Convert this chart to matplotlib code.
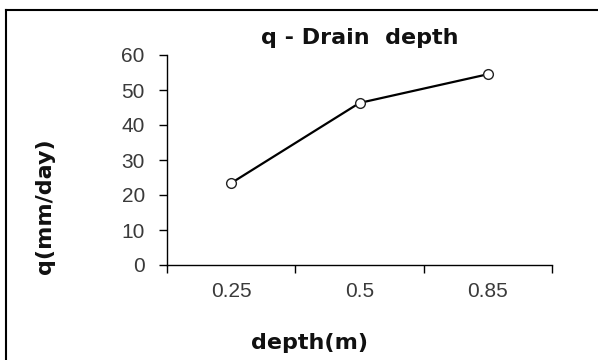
import matplotlib
matplotlib.use("Agg")
import matplotlib.pyplot as plt
from matplotlib.lines import Line2D

plt.rcParams['font.family'] = ['Liberation Sans', 'DejaVu Sans']

# donnees
depth = ["0.25", "0.5", "0.85"]
q = [23.4, 46.3, 54.5]
yticks = [0, 10, 20, 30, 40, 50, 60]

W, H = 598, 360
fig = plt.figure(figsize=(W/100, H/100), dpi=100)
ax = fig.add_axes([167/W, 1-265/H, (552-167)/W, (265-55)/H])

pos = list(range(len(depth)))
ax.plot(pos, q, color="black", lw=1.6, marker="o", ms=7,
        mfc="white", mec="#222222", mew=1.0, clip_on=False)

ax.set_xlim(-0.5, len(depth)-0.5)
ax.set_ylim(0, 60)
ax.set_yticks(yticks)
ax.set_xticks([p-0.5 for p in pos] + [len(depth)-0.5])
ax.set_xticklabels([])
ax.set_xticks(pos, minor=True)
ax.set_xticklabels(depth, minor=True)
ax.tick_params(axis="x", which="major", direction="out", length=6, width=1)
ax.tick_params(axis="x", which="minor", length=0, pad=12, labelsize=15, labelcolor="#3a3a3a")
ax.tick_params(axis="y", direction="out", length=6, width=1, pad=10, labelsize=15, labelcolor="#3a3a3a")

for s in ["top", "right"]:
    ax.spines[s].set_visible(False)
for s in ["left", "bottom"]:
    ax.spines[s].set_linewidth(1.0)

lab = dict(family="DejaVu Sans", fontweight="bold", fontsize=16, color="#111111")
fig.text(360/W, 1-38/H, "q - Drain  depth", ha="center", va="center", **lab)
fig.text(310/W, 1-343/H, "depth(m)", ha="center", va="center", **lab)
fig.text(45/W, 1-206/H, "q(mm/day)", ha="center", va="center", rotation=90, **lab)

# cadre autour de la figure (haut et gauche visibles)
fig.add_artist(Line2D([5.5/W, 5.5/W], [0, 1-10/H], transform=fig.transFigure, color="black", lw=1.5))
fig.add_artist(Line2D([5.5/W, 1], [1-10/H, 1-10/H], transform=fig.transFigure, color="black", lw=1.5))

fig.savefig("out.png", dpi=100)
